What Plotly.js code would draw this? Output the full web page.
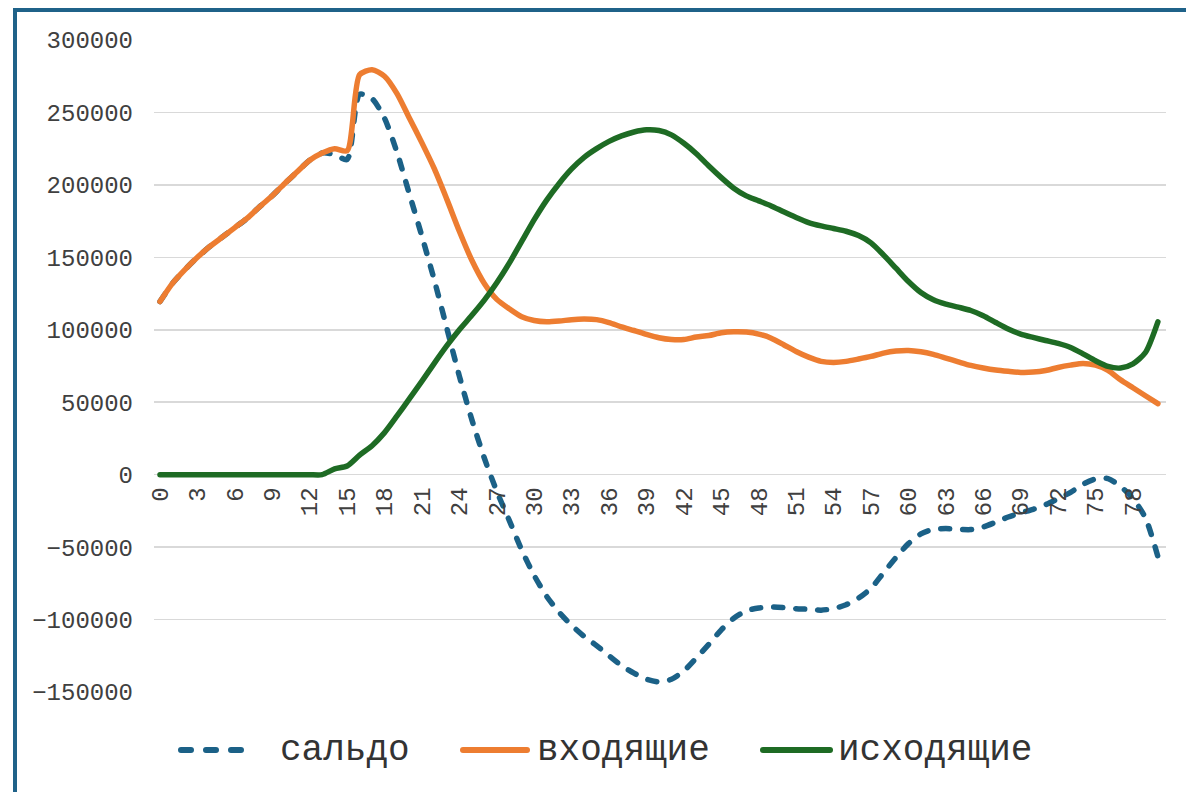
<!DOCTYPE html>
<html><head><meta charset="utf-8">
<script src="https://cdn.plot.ly/plotly-3.0.1.min.js"></script>
<style>
html,body{margin:0;padding:0;background:#fff;overflow:hidden;}
#chart{position:absolute;left:0;top:0;width:1186px;height:792px;}
#frame{position:absolute;left:13px;top:8px;width:1300px;height:900px;border-left:4px solid #1F6289;border-top:4px solid #1F6289;pointer-events:none;}
#chart path.js-line{stroke-linecap:round !important;stroke-linejoin:round !important;}
#chart .shapelayer path{stroke-linecap:round !important;}
</style></head><body>
<div id="chart"></div><div id="frame"></div>
<script>
const categories = [0,1,2,3,4,5,6,7,8,9,10,11,12,13,14,15,16,17,18,19,20,21,22,23,24,25,26,27,28,29,30,31,32,33,34,35,36,37,38,39,40,41,42,43,44,45,46,47,48,49,50,51,52,53,54,55,56,57,58,59,60,61,62,63,64,65,66,67,68,69,70,71,72,73,74,75,76,77,78,79,80];

const saldo = [119500,132000,141500,150000,157500,164000,170500,177000,185000,192500,201000,209000,217000,222000,221000,217500,262500,259500,246000,222500,193500,164500,134000,101000,68000,38000,11500,-11500,-31500,-52000,-69600,-84000,-95000,-104000,-111600,-118000,-125000,-131800,-137000,-141200,-143000,-141200,-135400,-126500,-117000,-107100,-99100,-94000,-92000,-91300,-91700,-92500,-92900,-93500,-92400,-89800,-85200,-78400,-67800,-57200,-47600,-40900,-37700,-37200,-37700,-37900,-36100,-32800,-29200,-26400,-23900,-20700,-16600,-12200,-6600,-3000,-2700,-8100,-16500,-29800,-56500];

const incoming = [119500,132000,141500,150000,157500,164000,170500,177000,185000,192500,201000,209000,217000,222000,225000,223500,276000,279500,275000,263000,246000,229000,211000,190000,168000,148000,132000,121000,114500,109000,106400,105500,106000,107000,107400,107000,105000,102000,99500,96800,94500,93300,93300,95000,96000,97900,98600,98400,97000,94200,89700,85000,81100,78200,77500,78200,79800,81600,83900,85300,85700,84800,83000,80500,77900,75400,73600,72200,71300,70600,70800,71900,74000,75600,76800,75600,72000,65500,60000,54500,49000];

const outgoing = [0,0,0,0,0,0,0,0,0,0,0,0,0,0,4000,6000,13500,20000,29000,40500,52500,64500,77000,89000,100000,110000,120500,132500,146000,161000,176000,189500,201000,211000,219000,225000,230000,233800,236500,238000,237500,234500,228700,221500,213000,205000,197700,192400,189000,185500,181400,177500,174000,171700,169900,168000,165000,160000,151700,142500,133300,125700,120700,117700,115600,113300,109700,105000,100500,97000,94700,92600,90600,87800,83400,78600,74700,73600,76500,84300,105500];

const seriesNames = ['сальдо', 'входящие', 'исходящие'];
const xTickVals = [0,3,6,9,12,15,18,21,24,27,30,33,36,39,42,45,48,51,54,57,60,63,66,69,72,75,78];
const xTickText = ['0','3','6','9','12','15','18','21','24','27','30','33','36','39','42','45','48','51','54','57','60','63','66','69','72','75','78'];
const yTickVals = [300000,250000,200000,150000,100000,50000,0,-50000,-100000,-150000];
const yTickText = ['300000','250000','200000','150000','100000','50000','0','\u221250000','\u2212100000','\u2212150000'];

const BLUE = '#1B6187', ORANGE = '#ED7D31', GREEN = '#1E6B24';
const FONT = '"Liberation Mono", "DejaVu Sans Mono", monospace';

const traces = [
  {x: categories, y: saldo, name: seriesNames[0], type: 'scatter', mode: 'lines',
   line: {color: BLUE, width: 5.5, dash: '9px,13px', shape: 'spline', smoothing: 0.7}},
  {x: categories, y: incoming, name: seriesNames[1], type: 'scatter', mode: 'lines',
   line: {color: ORANGE, width: 5.5, shape: 'spline', smoothing: 0.7}},
  {x: categories, y: outgoing, name: seriesNames[2], type: 'scatter', mode: 'lines',
   line: {color: GREEN, width: 5.5, shape: 'spline', smoothing: 0.7}}
];

// custom legend, pixel positions converted to paper coords
const L = 154, R = 1166, T = 40, B = 692;
const px = v => (v - L) / (R - L);
const py = v => (B - v) / (B - T);
const legY = 750;

const layout = {
  width: 1186, height: 792,
  margin: {l: L, r: 1186 - R, t: T, b: 792 - B, pad: 0},
  paper_bgcolor: '#ffffff', plot_bgcolor: '#ffffff',
  showlegend: false,
  hovermode: false,
  font: {family: FONT, color: '#404040', size: 22},
  xaxis: {
    range: [-0.48, 80.65], anchor: 'free', position: 1/3,
    tickmode: 'array', tickvals: xTickVals, ticktext: xTickText,
    tickangle: -90, ticks: '', showgrid: false, zeroline: false, showline: false,
    ticklabelstandoff: 7,
    tickfont: {family: FONT, size: 24, color: '#404040'}
  },
  yaxis: {
    range: [-150000, 300000],
    tickmode: 'array', tickvals: yTickVals, ticktext: yTickText,
    showgrid: true, gridcolor: '#D9D9D9', gridwidth: 1.5,
    zeroline: false, showline: false, ticks: '',
    ticklabelstandoff: 20,
    tickfont: {family: FONT, size: 24, color: '#404040'}
  },
  shapes: [
    {type: 'line', xref: 'paper', yref: 'paper', x0: px(181), x1: px(241), y0: py(legY), y1: py(legY),
     line: {color: BLUE, width: 6, dash: '10px,15px'}},
    {type: 'line', xref: 'paper', yref: 'paper', x0: px(463), x1: px(527), y0: py(legY), y1: py(legY),
     line: {color: ORANGE, width: 6}},
    {type: 'line', xref: 'paper', yref: 'paper', x0: px(763), x1: px(830), y0: py(legY), y1: py(legY),
     line: {color: GREEN, width: 6}}
  ],
  annotations: [
    {xref: 'paper', yref: 'paper', x: px(278), y: py(legY), xanchor: 'left', yanchor: 'middle', showarrow: false,
     text: seriesNames[0], font: {family: FONT, size: 36, color: '#333333'}},
    {xref: 'paper', yref: 'paper', x: px(535), y: py(legY), xanchor: 'left', yanchor: 'middle', showarrow: false,
     text: seriesNames[1], font: {family: FONT, size: 36, color: '#333333'}},
    {xref: 'paper', yref: 'paper', x: px(836), y: py(legY), xanchor: 'left', yanchor: 'middle', showarrow: false,
     text: seriesNames[2], font: {family: FONT, size: 36, color: '#333333'}}
  ]
};

Plotly.newPlot('chart', traces, layout, {displayModeBar: false, staticPlot: true});
</script>
</body></html>
